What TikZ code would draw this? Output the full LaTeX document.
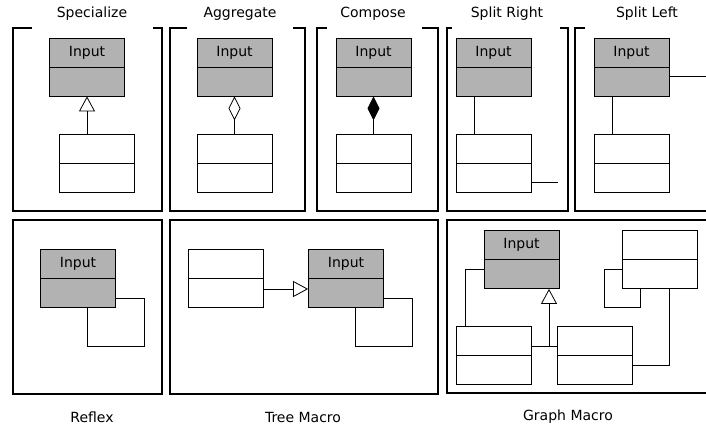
\documentclass[tikz,border=0pt]{standalone}
\usepackage{fontspec}
\setmainfont{DejaVu Sans}
\usepackage{tikz}
\usetikzlibrary{arrows.meta, calc}

\definecolor{boxgray}{RGB}{178,178,178}

\tikzset{
  panel/.style={line width=1.3pt},
  cls/.style={draw, line width=0.8pt, minimum width=75pt, minimum height=58pt, inner sep=0pt,
    path picture={\draw[line width=0.8pt] (path picture bounding box.west) -- (path picture bounding box.east);}},
  inp/.style={cls, fill=boxgray, label={[anchor=center, yshift=-15pt]north:Input}},
  link/.style={line width=0.8pt},
  gen/.style={link, -{Triangle[open, length=15pt, width=16pt]}},
  agg/.style={link, -{Diamond[open, length=24pt, width=12pt]}},
  comp/.style={link, -{Diamond[length=24pt, width=12pt]}},
}

\begin{document}
\begin{tikzpicture}[x=1pt, y=-1pt, font=\fontsize{14pt}{16pt}\selectfont]

\useasboundingbox (0,0) rectangle (706,430);
\clip (0,0) rectangle (706,430);

% top row
\draw[panel] (32,28) -| (13,211) -| (162,28) -- (153,28);
\draw[panel] (187,28) -| (170,211) -| (305,28) -- (293,28);
\draw[panel] (327,28) -| (317,211) -| (438,28) -- (422,28);
\draw[panel] (452,28) -| (447,211) -| (568,28) -- (560,28);
\draw[panel] (585,28) -| (575,211) -- (712,211);

\node (t-sp) at (92,14) {Specialize};
\node (t-ag) at (240,14) {Aggregate};
\node (t-co) at (373,14) {Compose};
\node (t-sr) at (507,14) {Split Right};
\node (t-sl) at (647,14) {Split Left};

\node[inp] (sp-in) at (87,67) {};
\node[cls] (sp-sub) at (97,163.5) {};
\draw[gen] (sp-sub.north -| sp-in.south) -- (sp-in.south);

\node[inp] (ag-in) at (234.5,67) {};
\node[cls] (ag-sub) at (234.5,163.5) {};
\draw[agg] (ag-sub.north) -- (ag-in.south);

\node[inp] (co-in) at (373.5,67) {};
\node[cls] (co-sub) at (373.5,163.5) {};
\draw[comp] (co-sub.north) -- (co-in.south);

\node[inp] (sr-in) at (493.5,67) {};
\node[cls] (sr-sub) at (493.5,163.5) {};
\coordinate (sr-end) at (558,182);
\draw[link] ([xshift=19pt]sr-in.south west) -- ([xshift=19pt]sr-sub.north west);
\draw[link] (sr-end -| sr-sub.east) -- (sr-end);

\node[inp] (sl-in) at (631.5,67) {};
\node[cls] (sl-sub) at (631.5,163.5) {};
\coordinate (sl-end) at (712,76);
\draw[link] ([xshift=19pt]sl-in.south west) -- ([xshift=19pt]sl-sub.north west);
\draw[link] (sl-end -| sl-in.east) -- (sl-end);

% bottom row
\draw[panel] (13,220) rectangle (162,394);
\draw[panel] (170,220) rectangle (438,394);
\draw[panel] (447,220) rectangle (712,393);

\node (t-rf) at (92,417) {Reflex};
\node (t-tr) at (303,417) {Tree Macro};
\node (t-gr) at (568,417) {Graph Macro};

\node[inp] (rf-in) at (78,278) {};
\draw[link] ([yshift=-20pt]rf-in.east) -| ++(28,48) -| ([xshift=9pt]rf-in.south);

\node[cls] (tr-sub) at (226,278) {};
\node[inp] (tr-in) at (346,278) {};
\draw[gen] ([yshift=-11pt]tr-sub.east) -- ([yshift=-11pt]tr-in.west);
\draw[link] ([yshift=-20pt]tr-in.east) -| ++(28,48) -| ([xshift=9pt]tr-in.south);

\node[inp] (gr-in) at (521.5,259.5) {};
\node[cls] (gr-a) at (494,355.5) {};
\node[cls] (gr-b) at (595,355.5) {};
\node[cls] (gr-c) at (660,259.5) {};
\coordinate (gr-j) at (549,346);
\draw[gen] (gr-j) -- (gr-j |- gr-in.south);
\draw[link] (gr-j -| gr-a.east) -- (gr-j -| gr-b.west);
\draw[link] ([xshift=9pt]gr-a.north west) |- ([yshift=-9.5pt]gr-in.west);
\draw[link] ([yshift=-9.5pt]gr-c.west) -| (604,307) -| ([xshift=18pt]gr-c.south west);
\draw[link] ([yshift=-9.5pt]gr-b.east) -| ([xshift=9pt]gr-c.south);

\end{tikzpicture}
\end{document}
